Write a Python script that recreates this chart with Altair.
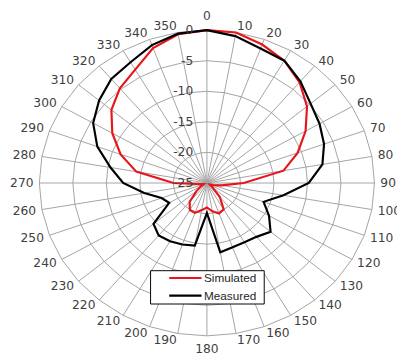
import altair as alt
import pandas as pd
import numpy as np

# ---- data (dB, every 10 degrees) ----
angles = list(range(0, 360, 10))
simulated = [0.0, 0.0, -0.9, -1.9, -3.5, -5.5, -8.0, -10.6, -13.4, -19.5,
             -22.8, -24.0, -24.5, -24.0, -22.0, -20.0, -19.7, -20.3, -21.0,
             -20.5, -19.8, -19.9, -21.0, -23.0, -24.0, -24.5, -24.0, -20.0,
             -14.3, -11.3, -8.7, -6.4, -4.8, -3.6, -1.5, -0.3]
measured = [0.0, -0.6, -1.6, -1.9, -3.3, -4.8, -5.6, -6.4, -7.5, -9.8,
            -13.4, -16.0, -14.3, -12.6, -13.5, -13.8, -13.8, -13.5, -20.1,
            -14.6, -14.3, -14.0, -13.8, -14.6, -18.5, -17.8, -15.5, -12.5,
            -10.4, -7.6, -5.4, -4.0, -2.8, -2.2, -1.0, -0.2]
series_names = ["Simulated", "Measured"]
series_colors = ["#e8151b", "#000000"]
ring_values = [-20, -15, -10, -5, 0]
radial_ticks = [0, -5, -10, -15, -20, -25]
angle_labels = [str(a) for a in angles]

R_MIN, R_MAX = -25.0, 0.0

# ---- layout ----
W, H = 397, 350
CX, CY = 203.0, 175.0
RX, RY = 171.0, 156.0
LAB_RX, LAB_RY = 177.0, 163.0      # anchor ellipse for side labels
LAB_RY_POLE = 170.0                # 0 / 180 labels
GRID = "#a3a3a3"
TEXT = "#404040"


def to_uv(angle, value):
    r = (value - R_MIN) / (R_MAX - R_MIN)
    t = np.deg2rad(angle)
    return r * np.sin(t), r * np.cos(t)


xs = alt.Scale(domain=[-CX / RX, (W - CX) / RX], nice=False, zero=False)
ys = alt.Scale(domain=[-(H - CY) / RY, CY / RY], nice=False, zero=False)

# rings (36-sided polygons, like a radar chart)
ring_rows = []
for rv in ring_values:
    for i, a in enumerate(angles + [360]):
        u, v = to_uv(a, rv)
        ring_rows.append({"ring": rv, "i": i, "u": u, "v": v})
ring_df = pd.DataFrame(ring_rows)

# spokes
spoke_rows = []
for a in angles:
    u0, v0 = to_uv(a, R_MIN)
    u1, v1 = to_uv(a, R_MAX)
    spoke_rows.append({"a": a, "u0": u0, "v0": v0, "u1": u1, "v1": v1})
spoke_df = pd.DataFrame(spoke_rows)


def series_df(name, values):
    rows = []
    for i, (a, val) in enumerate(zip(angles + [360], values + [values[0]])):
        u, v = to_uv(a, val)
        rows.append({"series": name, "i": i, "u": u, "v": v})
    return pd.DataFrame(rows)


sim_df = series_df(series_names[0], simulated)
mea_df = series_df(series_names[1], measured)

# angle labels
al_rows = []
for a, lab in zip(angles, angle_labels):
    t = np.deg2rad(a)
    s, c = np.sin(t), np.cos(t)
    if abs(s) < 0.01:
        side = "center"
        u, v = 0.0, (LAB_RY_POLE / RY) * c
    else:
        side = "left" if s > 0 else "right"
        u, v = (LAB_RX / RX) * s, (LAB_RY / RY) * c
    al_rows.append({"label": lab, "side": side, "u": u, "v": v})
al_df = pd.DataFrame(al_rows)

# radial labels
rl_rows = []
for rv in radial_ticks:
    u, v = to_uv(0, rv)
    rl_rows.append({"label": str(rv), "u": u, "v": v})
rl_df = pd.DataFrame(rl_rows)

X = lambda f: alt.X(f, type="quantitative", scale=xs, axis=None)
Y = lambda f: alt.Y(f, type="quantitative", scale=ys, axis=None)

rings = alt.Chart(ring_df).mark_line(color=GRID, strokeWidth=1).encode(
    x=X("u"), y=Y("v"), detail="ring:N", order="i:Q")

spokes = alt.Chart(spoke_df).mark_rule(color=GRID, strokeWidth=1).encode(
    x=X("u0"), y=Y("v0"), x2="u1", y2="v1")

color = alt.Color(
    "series:N",
    scale=alt.Scale(domain=series_names, range=series_colors),
    legend=alt.Legend(
        title="\u00a0", orient="none", legendX=145, legendY=264,
        direction="vertical", symbolType="M-8,0H8", symbolSize=17,
        symbolStrokeWidth=2.2, symbolOffset=28,
        labelFont="Liberation Sans", labelFontSize=12,
        labelColor="#262626", strokeColor="#000000", fillColor="#ffffff",
        padding=2, rowPadding=6, labelOffset=13, cornerRadius=0,
        titleOrient="right", titlePadding=6, titleFontSize=10,
        titleFont="Liberation Sans",
    ),
)

sim_line = alt.Chart(sim_df).mark_line(strokeWidth=2.2).encode(
    x=X("u"), y=Y("v"), color=color, order="i:Q")
mea_line = alt.Chart(mea_df).mark_line(strokeWidth=2.2).encode(
    x=X("u"), y=Y("v"), color=color, order="i:Q")

angle_layers = []
for side in ["left", "right", "center"]:
    angle_layers.append(
        alt.Chart(al_df).transform_filter(alt.datum.side == side).mark_text(
            font="DejaVu Sans", fontSize=12.5, color=TEXT, align=side, baseline="middle"
        ).encode(x=X("u"), y=Y("v"), text="label:N")
    )

radial_text = alt.Chart(rl_df).mark_text(
    font="DejaVu Sans", fontSize=12.5, color=TEXT, align="right", baseline="middle", dx=-14
).encode(x=X("u"), y=Y("v"), text="label:N")

chart = alt.layer(rings, spokes, sim_line, mea_line, *angle_layers, radial_text).properties(
    width=W, height=H, autosize=alt.AutoSizeParams(type="none"), padding=0
).configure_view(stroke=None)

chart.save("out.html", embed_options={"renderer": "svg", "actions": False})
